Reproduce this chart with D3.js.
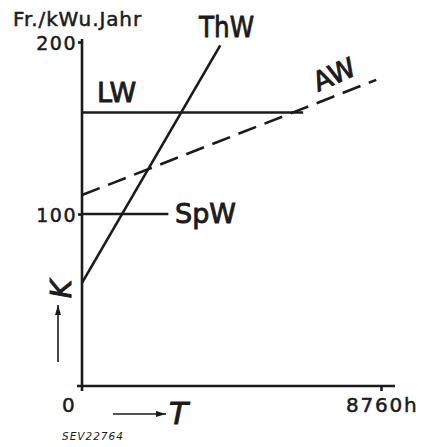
<!DOCTYPE html>
<html lang="de">
  <head>
    <title>Kosten K über Benutzungsdauer T</title>
    <script src="https://d3js.org/d3.v7.min.js"></script>
    <style>
      body {
        margin: 0;
        background: white;
      }
      text {
        font-family: "DejaVu Sans", sans-serif;
        fill: #1b1b1b;
        stroke: #1b1b1b;
        stroke-width: 0.5;
      }
      .curve {
        fill: none;
        stroke: #1b1b1b;
        stroke-width: 2.6;
      }
      .dashed {
        stroke-dasharray: 19 9;
      }
      .axis path,
      .axis line {
        stroke: #1b1b1b;
        stroke-width: 2.6;
      }
      .axis text {
        font-size: 19px;
        letter-spacing: 1.5px;
      }
      .big {
        font-size: 27px;
        stroke-width: 0.9;
      }
    </style>
  </head>
  <body>
    <div id="chart"></div>
    <script>
      let width = 431;
      let height = 447;

      // Werte (T in h, K in Fr./kW u. Jahr)
      let yearHours = 8760;
      let yTicks = [100, 200];
      let xTicks = [8760];

      let lwPoints = [[0, 159], [6480, 159]];
      let spwPoints = [[0, 100], [2530, 100]];
      let thwPoints = [[0, 60], [4050, 198]];
      let awPoints = [[0, 111], [8620, 178]];

      let svg = d3
        .select("#chart")
        .append("svg")
        .attr("width", width)
        .attr("height", height);

      let x = d3.scaleLinear().domain([0, yearHours]).range([82, 381]);
      let y = d3.scaleLinear().domain([0, 200]).range([386, 42]);

      // Achsen
      svg
        .append("g")
        .attr("class", "axis")
        .attr("transform", "translate(" + x(0) + ",0)")
        .call(
          d3
            .axisLeft(y)
            .tickValues(yTicks)
            .tickSize(4)
            .tickSizeOuter(0)
            .tickPadding(1)
            .tickFormat(d3.format("d"))
        )
        .call(function (g) {
          g.select(".domain").attr("d", "M0," + (y(0) + 5) + "V" + (y(200) - 3));
          g.selectAll(".tick text").attr("dy", "0.4em");
        });

      svg
        .append("g")
        .attr("class", "axis")
        .attr("transform", "translate(0," + y(0) + ")")
        .call(
          d3
            .axisBottom(x)
            .tickValues(xTicks)
            .tickSize(5)
            .tickSizeOuter(0)
            .tickFormat("")
        )
        .call(function (g) {
          g.select(".domain").attr("d", "M" + (x(0) - 5) + ",0H" + (x(yearHours) + 14));
        });

      // Kurven
      let line = d3
        .line()
        .x(function (d) {
          return x(d[0]);
        })
        .y(function (d) {
          return y(d[1]);
        });

      let curves = svg.append("g");
      curves.append("path").attr("class", "curve").attr("d", line(lwPoints));
      curves.append("path").attr("class", "curve").attr("d", line(spwPoints));
      curves.append("path").attr("class", "curve").attr("d", line(thwPoints));
      curves
        .append("path")
        .attr("class", "curve dashed")
        .attr("d", line(awPoints));

      // Beschriftungen
      svg
        .append("text")
        .attr("x", 13)
        .attr("y", 26)
        .style("font-size", "20px")
        .style("letter-spacing", "0.9px")
        .text("Fr./kWu.Jahr");

      svg.append("text").attr("x", 62).attr("y", 412).style("font-size", "20px").text("0");
      svg
        .append("text")
        .attr("x", 346)
        .attr("y", 412)
        .style("font-size", "20px")
        .style("letter-spacing", "1.8px")
        .text("8760h");

      svg.append("text").attr("class", "big").attr("x", 97).attr("y", 102).text("LW");
      svg
        .append("text")
        .attr("class", "big")
        .attr("x", 175)
        .attr("y", 223)
        .text("SpW");
      svg
        .append("text")
        .attr("class", "big")
        .attr("x", 199)
        .attr("y", 37)
        .style("font-size", "29px")
        .attr("textLength", 55)
        .attr("lengthAdjust", "spacingAndGlyphs")
        .text("ThW");
      svg
        .append("text")
        .attr("class", "big")
        .attr("text-anchor", "middle")
        .attr("transform", "translate(338,83) rotate(-24)")
        .text("AW");

      // K mit Pfeil
      svg
        .append("text")
        .attr("text-anchor", "middle")
        .attr("transform", "translate(71,289) rotate(-90)")
        .style("font-size", "28px")
        .style("font-style", "italic")
        .style("stroke-width", "1")
        .text("K");

      svg
        .append("defs")
        .append("marker")
        .attr("id", "head")
        .attr("viewBox", "0 0 10 6")
        .attr("refX", 10)
        .attr("refY", 3)
        .attr("markerWidth", 10)
        .attr("markerHeight", 6)
        .attr("markerUnits", "userSpaceOnUse")
        .attr("orient", "auto")
        .append("path")
        .attr("d", "M0,0 L10,3 L0,6 Z")
        .attr("fill", "#1b1b1b");

      svg
        .append("line")
        .attr("x1", 58)
        .attr("y1", 362)
        .attr("x2", 58)
        .attr("y2", 305)
        .attr("stroke", "#1b1b1b")
        .attr("stroke-width", 1.6)
        .attr("marker-end", "url(#head)");

      // T mit Pfeil
      svg
        .append("line")
        .attr("x1", 113)
        .attr("y1", 414)
        .attr("x2", 166)
        .attr("y2", 414)
        .attr("stroke", "#1b1b1b")
        .attr("stroke-width", 1.6)
        .attr("marker-end", "url(#head)");

      svg
        .append("text")
        .attr("x", 169)
        .attr("y", 424)
        .style("font-size", "31px")
        .style("font-style", "italic")
        .style("stroke-width", "1")
        .text("T");

      svg
        .append("text")
        .attr("x", 62)
        .attr("y", 440)
        .style("font-size", "10.5px")
        .style("font-style", "italic")
        .style("letter-spacing", "1px")
        .style("stroke-width", "0")
        .text("SEV22764");
    </script>
  </body>
</html>
